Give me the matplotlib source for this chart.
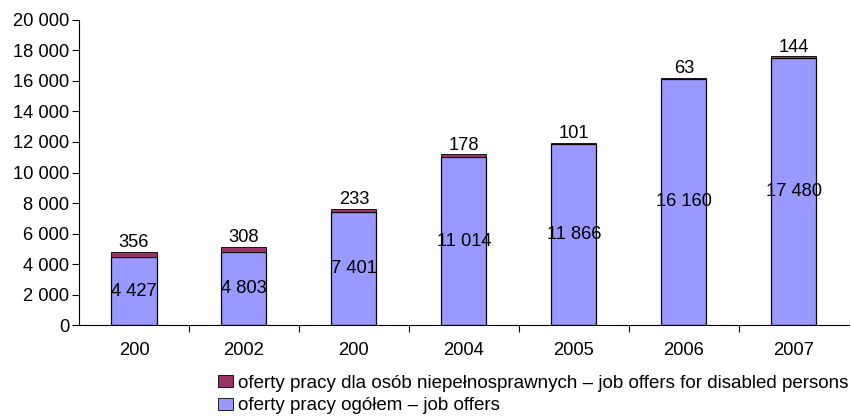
import numpy as np
import matplotlib.pyplot as plt
from matplotlib.patches import Patch

plt.rcParams['font.family'] = ['Liberation Sans', 'DejaVu Sans']

years = ["200", "2002", "200", "2004", "2005", "2006", "2007"]
job_offers = [4427, 4803, 7401, 11014, 11866, 16160, 17480]
disabled_offers = [356, 308, 233, 178, 101, 63, 144]

label_total = "oferty pracy ogółem – job offers"
label_disabled = "oferty pracy dla osób niepełnosprawnych – job offers for disabled persons"

FS = 13.2


def fmt(v):
    return f"{v:,}".replace(",", " ")


fig = plt.figure(figsize=(8.53, 4.19), dpi=100)
ax = fig.add_axes([0.0926, 0.2243, 0.9024, 0.728])

x = np.arange(len(years))
w = 0.41
c_total = "#9999FF"
c_dis = "#993366"

ax.bar(x, job_offers, width=w, color=c_total, edgecolor="black", linewidth=0.9)
ax.bar(x, disabled_offers, width=w, bottom=job_offers, color=c_dis,
       edgecolor="black", linewidth=0.6)

for xi, a, b in zip(x, job_offers, disabled_offers):
    ax.text(xi, a / 2, fmt(a), ha="center", va="center", fontsize=FS)
    ax.text(xi, a + b + 40, fmt(b), ha="center", va="bottom", fontsize=FS)

ax.set_xlim(-0.5, len(years) - 0.5)
ax.set_ylim(0, 20000)
ax.set_yticks(np.arange(0, 20001, 2000))
ax.set_yticklabels([fmt(v) for v in range(0, 20001, 2000)], fontsize=FS)
ax.set_xticks(x)
ax.set_xticklabels(years, fontsize=FS)
ax.tick_params(axis="x", length=0, pad=12)
ax.set_xticks(np.arange(0.5, len(years) - 0.5, 1), minor=True)
ax.tick_params(axis="x", which="minor", length=5, direction="out", width=0.8)
ax.tick_params(axis="y", length=5, direction="out", width=0.8, pad=2)

for s in ["top", "right"]:
    ax.spines[s].set_visible(False)
for s in ["left", "bottom"]:
    ax.spines[s].set_linewidth(0.8)

handles = [Patch(facecolor=c_dis, edgecolor="black", linewidth=0.6),
           Patch(facecolor=c_total, edgecolor="black", linewidth=0.6)]
fig.legend(handles, [label_disabled, label_total], loc="upper left",
           bbox_to_anchor=(0.2556, 0.105), frameon=False, fontsize=13.5,
           handlelength=0.8, handleheight=0.6, handletextpad=0.25,
           labelspacing=0.28, borderpad=0, borderaxespad=0)

fig.savefig("out.png", dpi=100)
